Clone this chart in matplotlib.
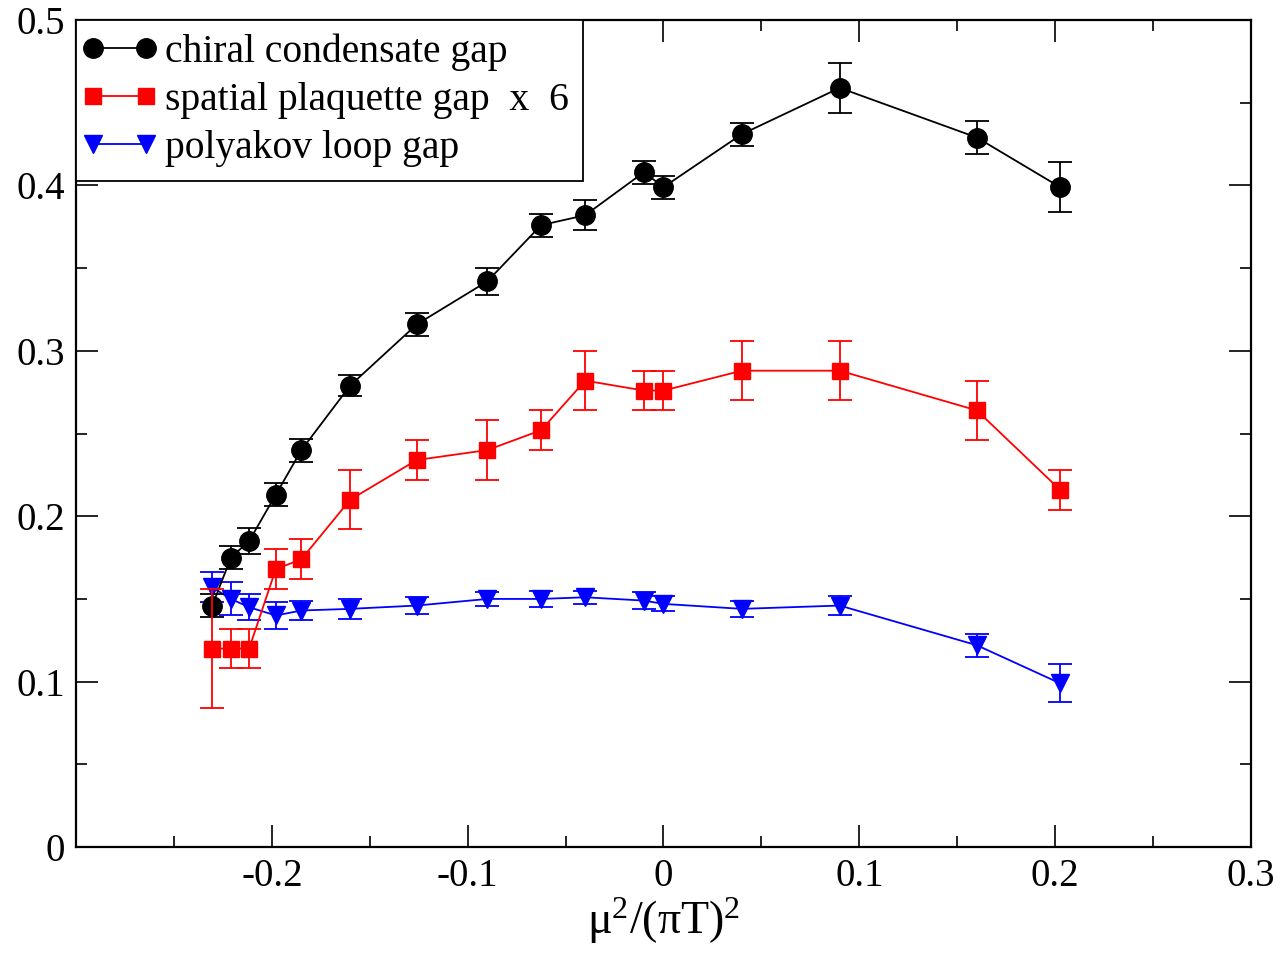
import numpy as np
import matplotlib
matplotlib.use('Agg')
import matplotlib.pyplot as plt
from matplotlib.ticker import MultipleLocator
from matplotlib.legend_handler import HandlerLine2D

plt.rcParams['font.family'] = 'Liberation Serif'
plt.rcParams['mathtext.fontset'] = 'custom'
plt.rcParams['mathtext.rm'] = 'Liberation Serif'
plt.rcParams['mathtext.it'] = 'Liberation Serif'

# mu^2/(pi T)^2
mu2 = np.array([-0.2304, -0.2209, -0.2116, -0.198, -0.1849, -0.16, -0.126, -0.09,
                -0.0625, -0.04, -0.01, 0.0, 0.04, 0.09, 0.16, 0.2025])

chiral = np.array([0.146, 0.175, 0.185, 0.213, 0.240, 0.279, 0.316, 0.342,
                   0.376, 0.382, 0.408, 0.399, 0.431, 0.459, 0.429, 0.399])
chiral_err = np.array([0.007, 0.007, 0.008, 0.007, 0.007, 0.0065, 0.007, 0.008,
                       0.007, 0.009, 0.007, 0.007, 0.007, 0.015, 0.010, 0.015])

plaq = np.array([0.120, 0.120, 0.120, 0.168, 0.174, 0.210, 0.234, 0.240,
                 0.252, 0.282, 0.276, 0.276, 0.288, 0.288, 0.264, 0.216])
plaq_err = np.array([0.036, 0.012, 0.012, 0.012, 0.012, 0.018, 0.012, 0.018,
                     0.012, 0.018, 0.012, 0.012, 0.018, 0.018, 0.018, 0.012])

poly = np.array([0.157, 0.150, 0.145, 0.140, 0.143, 0.144, 0.146, 0.150,
                 0.150, 0.151, 0.149, 0.147, 0.144, 0.146, 0.122, 0.099])
poly_err = np.array([0.009, 0.010, 0.008, 0.008, 0.006, 0.006, 0.005, 0.004,
                     0.005, 0.004, 0.005, 0.0045, 0.0047, 0.006, 0.007, 0.0115])

labels = ['chiral condensate gap', 'spatial plaquette gap  x  6', 'polyakov loop gap']

fig = plt.figure(figsize=(12.82, 9.56), dpi=100)
ax = fig.add_axes([0.0593, 0.114, 0.9165, 0.865])

lw = 1.3
series = [
    (poly, poly_err, 'v', 'blue', 13, labels[2]),
    (chiral, chiral_err, 'o', 'black', 14, labels[0]),
    (plaq, plaq_err, 's', 'red', 12, labels[1]),
]
handles = {}
for y, yerr, mk, col, ms, lab in series:
    ax.errorbar(mu2, y, yerr=yerr, fmt='none', ecolor=col, elinewidth=lw,
                capsize=8.5, capthick=lw)
    line, = ax.plot(mu2, y, marker=mk, color=col, ms=ms, lw=lw, label=lab)
    handles[lab] = line

ax.set_xlim(-0.3, 0.3)
ax.set_ylim(0, 0.5)
ax.set_xticks([-0.2, -0.1, 0, 0.1, 0.2, 0.3])
ax.set_xticklabels(['-0.2', '-0.1', '0', '0.1', '0.2', '0.3'])
ax.xaxis.set_minor_locator(MultipleLocator(0.05))
ax.set_yticks([0, 0.1, 0.2, 0.3, 0.4, 0.5])
ax.set_yticklabels(['0', '0.1', '0.2', '0.3', '0.4', '0.5'])
ax.yaxis.set_minor_locator(MultipleLocator(0.05))
ax.tick_params(which='both', direction='in', top=True, right=True,
               labelsize=28, width=1.2)
ax.tick_params(which='major', length=16, pad=8)
ax.tick_params(which='minor', length=8)
for s in ax.spines.values():
    s.set_linewidth(1.6)

ax.set_xlabel(r'$\mathrm{\mu^2/(\pi T)^2}$', fontsize=33, labelpad=0)

hmap = {h: HandlerLine2D(marker_pad=0.1, numpoints=2) for h in handles.values()}
leg = ax.legend([handles[l] for l in labels], labels, loc='upper left',
                fontsize=28.5, handlelength=1.52, handler_map=hmap,
                handletextpad=0.4, labelspacing=0.28, borderpad=0.34,
                borderaxespad=0, fancybox=False, framealpha=1,
                edgecolor='black')
leg.get_frame().set_linewidth(1.3)

fig.savefig('out.png', dpi=100)
